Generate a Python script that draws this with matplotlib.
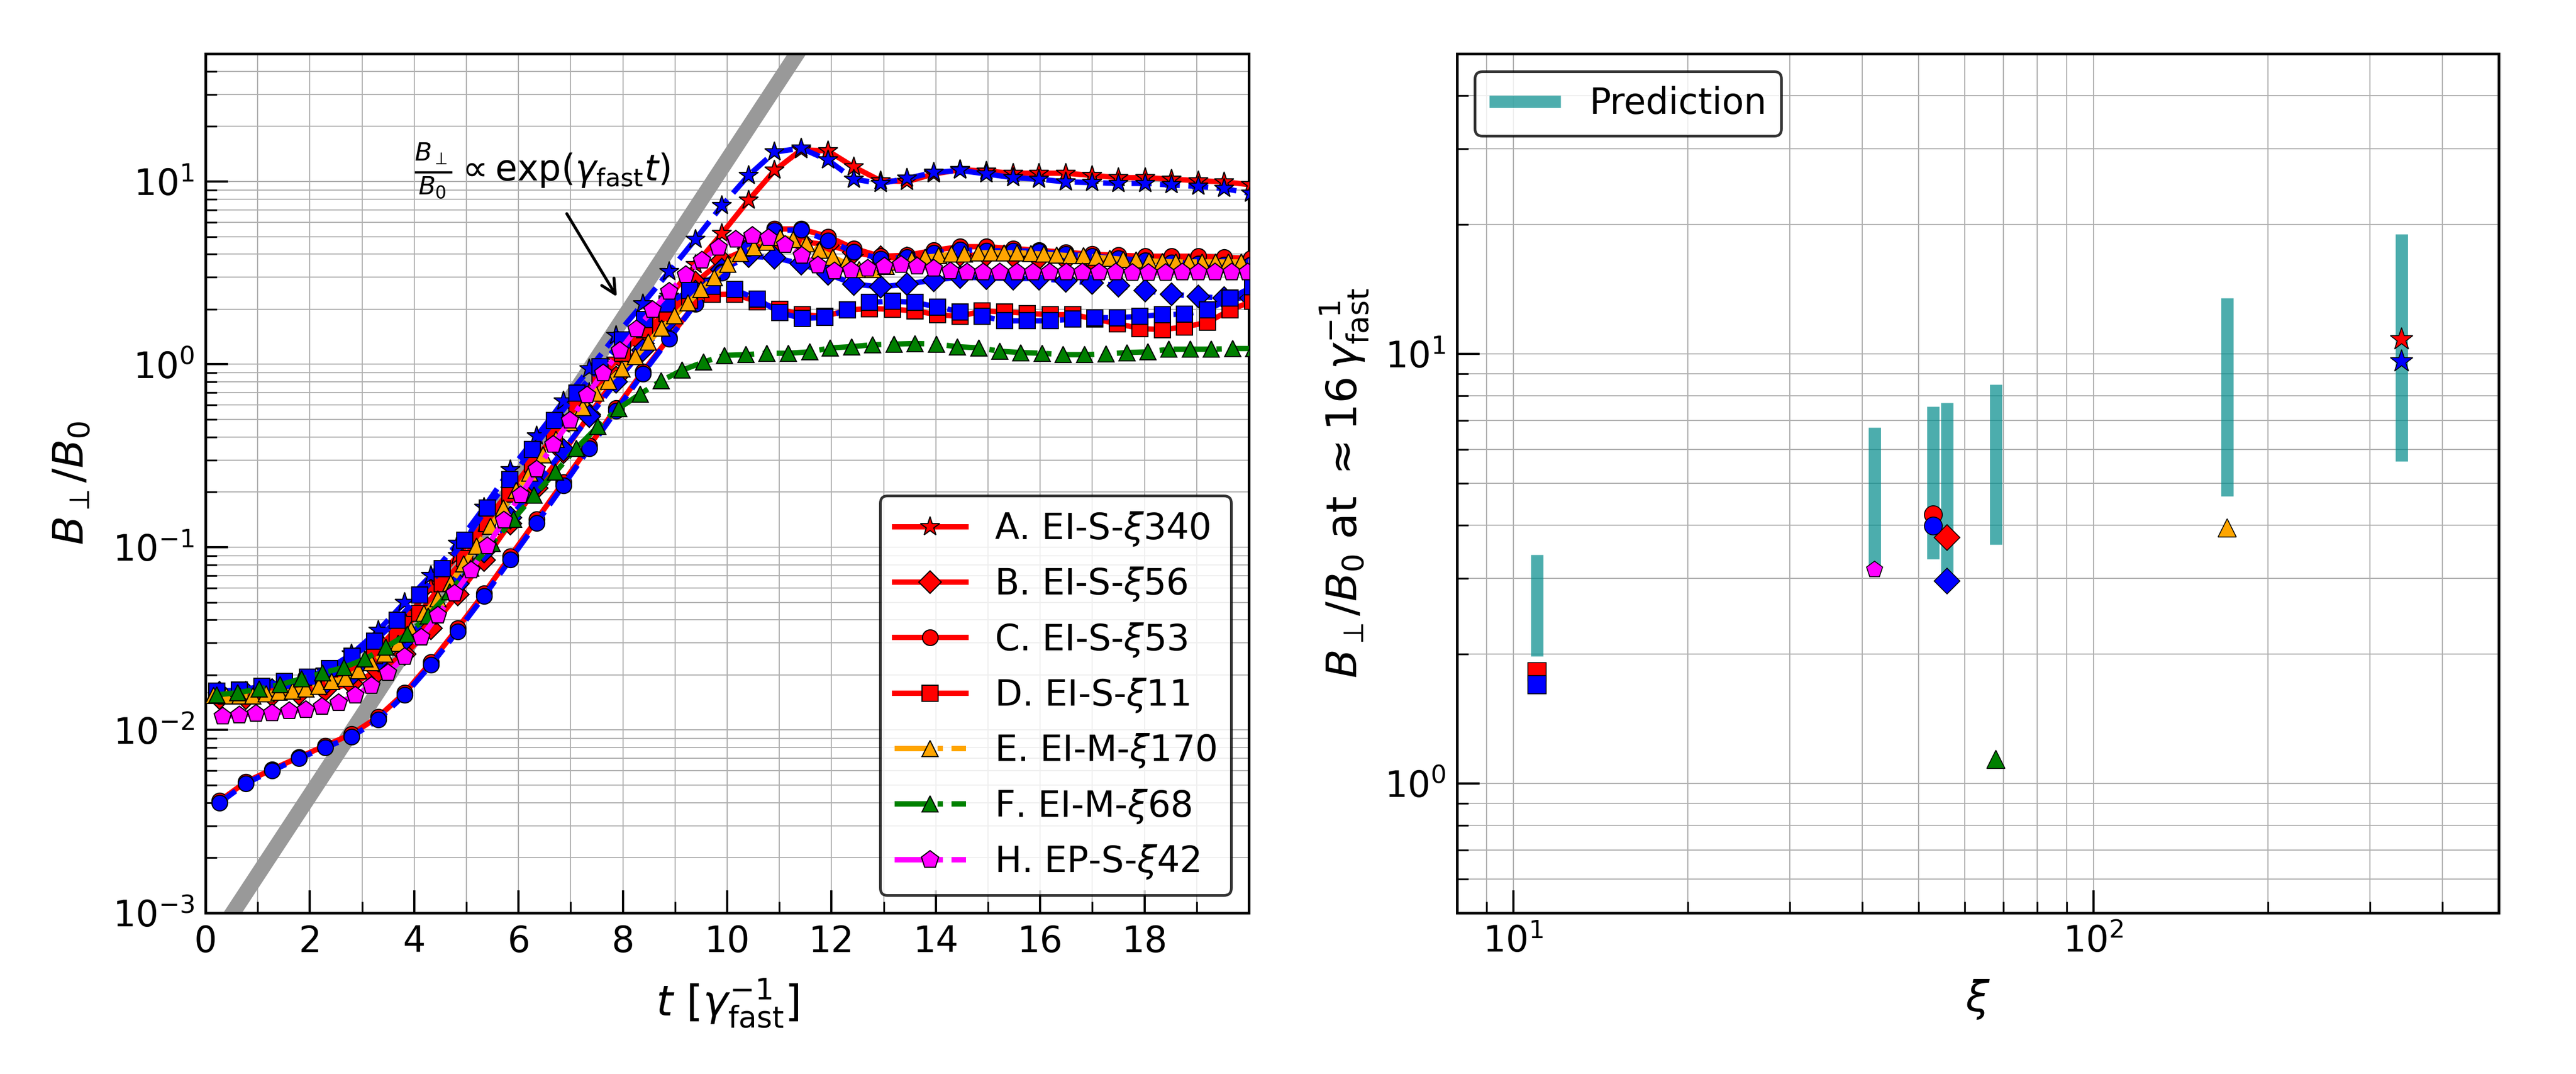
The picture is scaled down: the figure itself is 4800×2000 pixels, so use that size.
import numpy as np
import matplotlib.pyplot as plt

# ---- left panel: B_perp/B_0 vs time ----
# output times (1/gamma_fast) for each run cadence
t_abc = [0.27, 0.77, 1.28, 1.79, 2.29, 2.80, 3.31, 3.82, 4.32, 4.83,
         5.34, 5.84, 6.35, 6.86, 7.36, 7.87, 8.38, 8.89, 9.39, 9.90,
         10.41, 10.91, 11.42, 11.93, 12.43, 12.94, 13.45, 13.96, 14.46, 14.97,
         15.48, 15.98, 16.49, 17.00, 17.50, 18.01, 18.52, 19.03, 19.53, 20.04]
t_d = [0.22, 0.65, 1.08, 1.51, 1.95, 2.38, 2.81, 3.24, 3.67, 4.10,
       4.54, 4.97, 5.40, 5.83, 6.26, 6.69, 7.12, 7.56, 7.99, 8.42,
       8.85, 9.28, 9.71, 10.14, 10.58, 11.01, 11.44, 11.87, 12.30, 12.73,
       13.17, 13.60, 14.03, 14.46, 14.89, 15.32, 15.75, 16.19, 16.62, 17.05,
       17.48, 17.91, 18.34, 18.77, 19.21, 19.64, 20.07]
t_e = [0.15, 0.40, 0.66, 0.91, 1.16, 1.41, 1.67, 1.92, 2.17, 2.42,
       2.68, 2.93, 3.18, 3.44, 3.69, 3.94, 4.19, 4.45, 4.70, 4.95,
       5.20, 5.46, 5.71, 5.96, 6.21, 6.47, 6.72, 6.97, 7.23, 7.48,
       7.73, 7.98, 8.24, 8.49, 8.74, 8.99, 9.25, 9.50, 9.75, 10.01,
       10.26, 10.51, 10.76, 11.02, 11.27, 11.52, 11.77, 12.03, 12.28, 12.53,
       12.79, 13.04, 13.29, 13.54, 13.80, 14.05, 14.30, 14.55, 14.81, 15.06,
       15.31, 15.56, 15.82, 16.07, 16.32, 16.58, 16.83, 17.08, 17.33, 17.59,
       17.84, 18.09, 18.34, 18.60, 18.85, 19.10, 19.36, 19.61, 19.86, 20.11]
t_f = [0.22, 0.62, 1.03, 1.43, 1.84, 2.24, 2.65, 3.06, 3.46, 3.87,
       4.27, 4.68, 5.08, 5.49, 5.90, 6.30, 6.71, 7.11, 7.52, 7.92,
       8.33, 8.73, 9.14, 9.55, 9.95, 10.36, 10.76, 11.17, 11.58, 11.98,
       12.39, 12.79, 13.20, 13.60, 14.01, 14.41, 14.82, 15.23, 15.63, 16.04,
       16.44, 16.85, 17.26, 17.66, 18.07, 18.47, 18.88, 19.28, 19.69, 20.09]
t_h = [0.33, 0.65, 0.97, 1.28, 1.60, 1.92, 2.23, 2.55, 2.87, 3.18,
       3.50, 3.82, 4.14, 4.45, 4.77, 5.09, 5.40, 5.72, 6.04, 6.35,
       6.67, 6.99, 7.31, 7.62, 7.94, 8.26, 8.57, 8.89, 9.21, 9.52,
       9.84, 10.16, 10.48, 10.79, 11.11, 11.43, 11.74, 12.06, 12.38, 12.69,
       13.01, 13.33, 13.64, 13.96, 14.28, 14.60, 14.91, 15.23, 15.55, 15.86,
       16.18, 16.50, 16.81, 17.13, 17.45, 17.77, 18.08, 18.40, 18.72, 19.03,
       19.35, 19.67, 19.98]

a_red = [0.0155, 0.0155, 0.016, 0.0165, 0.018, 0.021, 0.028, 0.04, 0.06, 0.09,
         0.135, 0.205, 0.31, 0.47, 0.70, 1.05, 1.55, 2.35, 3.5, 5.2,
         7.9, 11.5, 14.9, 14.7, 12.0, 10.1, 10.0, 11.0, 11.6, 11.4,
         11.1, 11.1, 11.1, 10.8, 10.5, 10.5, 10.3, 10.1, 9.95, 9.6]
a_blue = [0.016, 0.0162, 0.0168, 0.018, 0.021, 0.026, 0.035, 0.05, 0.07, 0.105,
          0.165, 0.265, 0.405, 0.628, 0.945, 1.44, 2.14, 3.22, 4.83, 7.38,
          10.8, 14.5, 15.2, 13.1, 10.3, 9.76, 10.4, 11.2, 11.5, 11.0,
          10.5, 10.3, 9.95, 9.87, 9.76, 9.76, 9.57, 9.4, 9.15, 8.6]
b_red = [0.015, 0.015, 0.0155, 0.0158, 0.0165, 0.018, 0.021, 0.026, 0.036, 0.055,
         0.085, 0.135, 0.21, 0.33, 0.53, 0.85, 1.3, 1.95, 2.8, 3.7,
         4.3, 4.6, 4.7, 4.5, 4.1, 3.85, 3.8, 3.9, 3.95, 3.95,
         3.9, 3.8, 3.75, 3.75, 3.72, 3.72, 3.7, 3.7, 3.68, 3.65]
b_blue = [0.016, 0.016, 0.0165, 0.017, 0.018, 0.02, 0.024, 0.031, 0.043, 0.063,
          0.095, 0.145, 0.22, 0.34, 0.52, 0.8, 1.2, 1.75, 2.5, 3.3,
          3.9, 3.83, 3.55, 3.12, 2.75, 2.65, 2.75, 2.89, 3.0, 2.97,
          2.95, 2.95, 2.86, 2.79, 2.7, 2.53, 2.42, 2.35, 2.3, 2.3]
c_red = [0.0041, 0.0052, 0.0061, 0.0071, 0.0082, 0.0095, 0.0118, 0.016, 0.0235, 0.036,
         0.056, 0.089, 0.142, 0.227, 0.36, 0.575, 0.91, 1.4, 2.15, 3.2,
         4.4, 5.5, 5.5, 5.0, 4.3, 3.9, 3.95, 4.2, 4.4, 4.4,
         4.3, 4.2, 4.1, 4.0, 3.95, 3.9, 3.9, 3.9, 3.85, 3.8]
c_blue = [0.0040, 0.0051, 0.0060, 0.0070, 0.0080, 0.0092, 0.0114, 0.0156, 0.0227, 0.0347,
          0.054, 0.0855, 0.136, 0.218, 0.348, 0.557, 0.889, 1.38, 2.14, 3.17,
          4.33, 5.41, 5.43, 4.75, 4.12, 3.78, 3.85, 4.07, 4.23, 4.18,
          4.18, 4.15, 4.0, 3.9, 3.8, 3.7, 3.6, 3.55, 3.5, 3.5]
d_red = [0.0155, 0.0157, 0.016, 0.0168, 0.0177, 0.019, 0.0215, 0.0255, 0.0332, 0.0435,
         0.063, 0.087, 0.135, 0.195, 0.285, 0.41, 0.59, 0.83, 1.15, 1.55,
         1.9, 2.25, 2.41, 2.42, 2.2, 2.0, 1.87, 1.83, 1.98, 2.02,
         2.0, 1.96, 1.87, 1.83, 1.96, 1.94, 1.90, 1.87, 1.87, 1.77,
         1.67, 1.57, 1.55, 1.60, 1.70, 1.98, 2.22]
d_blue = [0.0163, 0.01655, 0.0173, 0.0184, 0.0195, 0.0217, 0.0253, 0.0307, 0.0398, 0.0546,
          0.0762, 0.109, 0.164, 0.235, 0.343, 0.493, 0.698, 0.973, 1.36, 1.76,
          2.14, 2.53, 2.68, 2.56, 2.27, 1.92, 1.78, 1.81, 1.98, 2.18,
          2.22, 2.18, 2.06, 1.94, 1.83, 1.73, 1.73, 1.73, 1.77, 1.80,
          1.80, 1.83, 1.87, 1.88, 1.98, 2.30, 2.65]
e_val = [0.0155, 0.0154, 0.0154, 0.0154, 0.0158, 0.0161, 0.0163, 0.0168, 0.0173, 0.0184,
         0.0192, 0.0211, 0.0234, 0.026, 0.0299, 0.0353, 0.0436, 0.0522, 0.0636, 0.081,
         0.1015, 0.13, 0.164, 0.205, 0.255, 0.32, 0.39, 0.48, 0.58, 0.698,
         0.81, 0.945, 1.1, 1.32, 1.58, 1.84, 2.17, 2.56, 2.98, 3.52,
         4.03, 4.35, 4.65, 4.95, 4.83, 4.55, 4.2, 3.85, 3.57, 3.3,
         3.30, 3.43, 3.63, 3.73, 3.85, 3.92, 4.0, 4.0, 4.07, 4.07,
         4.07, 4.07, 4.05, 4.0, 3.97, 3.92, 3.92, 3.85, 3.8, 3.75,
         3.73, 3.68, 3.65, 3.63, 3.63, 3.63, 3.63, 3.63, 3.63, 3.63]
f_val = [0.0156, 0.016, 0.0168, 0.0177, 0.0191, 0.0205, 0.022, 0.0245, 0.0285, 0.0334,
         0.0422, 0.057, 0.077, 0.105, 0.142, 0.193, 0.258, 0.348, 0.457, 0.574,
         0.688, 0.812, 0.93, 1.03, 1.12, 1.13, 1.15, 1.15, 1.17, 1.23,
         1.25, 1.28, 1.29, 1.30, 1.29, 1.25, 1.23, 1.18, 1.16, 1.15,
         1.13, 1.13, 1.14, 1.16, 1.17, 1.21, 1.21, 1.21, 1.22, 1.22]
h_val = [0.01186, 0.01205, 0.0123, 0.0124, 0.0127, 0.0129, 0.01346, 0.0141, 0.0155, 0.01747,
         0.0206, 0.0252, 0.0322, 0.0425, 0.0558, 0.0746, 0.1015, 0.14, 0.193, 0.266,
         0.365, 0.493, 0.677, 0.895, 1.185, 1.56, 1.98, 2.50, 3.09, 3.71,
         4.35, 4.83, 5.06, 4.91, 4.5, 3.94, 3.48, 3.24, 3.28, 3.34,
         3.43, 3.50, 3.43, 3.34, 3.24, 3.18, 3.18, 3.18, 3.18, 3.19,
         3.19, 3.18, 3.18, 3.18, 3.18, 3.17, 3.17, 3.17, 3.18, 3.18,
         3.18, 3.18, 3.18]

# guide line B/B0 ~ exp(gamma_fast t)
guide_t = [0.0, 12.0]
guide_amp = 5.95e-4

# ---- right panel: value at ~16/gamma_fast vs xi ----
xi_pred = [11, 42, 53, 56, 68, 170, 340]
pred_lo = [1.98, 3.2, 3.33, 3.0, 3.6, 4.66, 5.63]
pred_hi = [3.41, 6.74, 7.55, 7.7, 8.5, 13.5, 19.0]

xi_abcd = [340, 56, 53, 11]
b16_red = [10.8, 3.74, 4.23, 1.82]
b16_blue = [9.6, 2.96, 3.98, 1.70]
xi_efh = [170, 68, 42]
b16_efh = [3.94, 1.14, 3.15]

labels = [r'A. EI-S-$\xi$340', r'B. EI-S-$\xi$56', r'C. EI-S-$\xi$53', r'D. EI-S-$\xi$11',
          r'E. EI-M-$\xi$170', r'F. EI-M-$\xi$68', r'H. EP-S-$\xi$42']
markers = ['*', 'D', 'o', 's', '^', '^', 'p']
msizes = [9, 7, 7, 7, 7, 7, 8.2]

fig = plt.figure(figsize=(16, 2000 / 300), dpi=300)
ax1 = fig.add_axes([0.0798, 0.15, 0.405, 0.80])
ax2 = fig.add_axes([0.5656, 0.15, 0.4044, 0.80])

ax1.plot(guide_t, guide_amp * np.exp(guide_t), color='#999999', lw=7,
         solid_capstyle='butt', zorder=1)

runs_abcd = [(t_abc, a_red, a_blue), (t_abc, b_red, b_blue),
             (t_abc, c_red, c_blue), (t_d, d_red, d_blue)]
for i, (tt, vr, vb) in enumerate(runs_abcd):
    ax1.plot(tt, vr, '-', color='red', lw=2.4, marker=markers[i], ms=msizes[i],
             mfc='red', mec='k', mew=0.5, label=labels[i], zorder=3)
    ax1.plot(tt, vb, '--', color='blue', lw=2.4, marker=markers[i], ms=msizes[i],
             mfc='blue', mec='k', mew=0.5, zorder=3)

others = [(t_e, e_val, 'orange'), (t_f, f_val, 'green'), (t_h, h_val, 'magenta')]
for j, (tt, vv, col) in enumerate(others):
    i = j + 4
    ax1.plot(tt, vv, '-.', color=col, lw=2.4, marker=markers[i], ms=msizes[i],
             mfc=col, mec='k', mew=0.5, label=labels[i], zorder=3)

ax1.annotate('', xy=(7.93, 2.23), xytext=(6.88, 7.0),
             arrowprops=dict(arrowstyle='->', color='k', lw=1.3, mutation_scale=16))
ax1.text(4.0, 11.5, r'$\frac{B_\perp}{B_0}\propto\exp(\gamma_{\rm fast}t)$',
         fontsize=16, va='center', ha='left')

ax1.set_yscale('log')
ax1.set_xlim(0, 20)
ax1.set_ylim(1e-3, 50)
ax1.set_xticks(np.arange(0, 20, 2))
ax1.set_xticks(np.arange(1, 20, 2), minor=True)
ax1.set_xlabel(r'$t\ [\gamma_{\rm fast}^{-1}]$', fontsize=19, labelpad=8)
ax1.set_ylabel(r'$B_\perp/B_0$', fontsize=19, labelpad=9)
leg1 = ax1.legend(loc='lower right', fontsize=16, edgecolor='black')
leg1.get_frame().set_linewidth(1.2)

# right panel
ax2.vlines(xi_pred, pred_lo, pred_hi, color='darkcyan', alpha=0.7, lw=5.5,
           label='Prediction', zorder=2)
for i in range(4):
    ms = 10.5 if markers[i] == '*' else 8
    ax2.plot(xi_abcd[i], b16_red[i], ls='none', marker=markers[i], ms=ms,
             mfc='red', mec='k', mew=0.4, zorder=3)
    ax2.plot(xi_abcd[i], b16_blue[i], ls='none', marker=markers[i], ms=ms,
             mfc='blue', mec='k', mew=0.4, zorder=3)
for j, col in enumerate(['orange', 'green', 'magenta']):
    ax2.plot(xi_efh[j], b16_efh[j], ls='none', marker=markers[j + 4], ms=8 if j < 2 else 7.6,
             mfc=col, mec='k', mew=0.4, zorder=3)

ax2.set_xscale('log')
ax2.set_yscale('log')
ax2.set_xlim(8, 500)
ax2.set_ylim(0.5, 50)
ax2.set_xlabel(r'$\xi$', fontsize=19, labelpad=8)
ax2.set_ylabel(r'$B_\perp/B_0$ at $\approx 16\,\gamma_{\rm fast}^{-1}$', fontsize=19, labelpad=6)
leg2 = ax2.legend(loc='upper left', fontsize=16, edgecolor='black')
leg2.get_frame().set_linewidth(1.2)

for ax in (ax1, ax2):
    ax.grid(which='both', color='#b0b0b0', lw=0.5)
    ax.set_axisbelow(True)
    ax.tick_params(which='both', direction='in', top=False, right=False, labelsize=16, pad=5)
    ax.tick_params(which='major', length=10, width=1.0)
    ax.tick_params(which='minor', length=5, width=0.8)
    for sp in ax.spines.values():
        sp.set_linewidth(1.2)

plt.savefig('out.png', dpi=300)
